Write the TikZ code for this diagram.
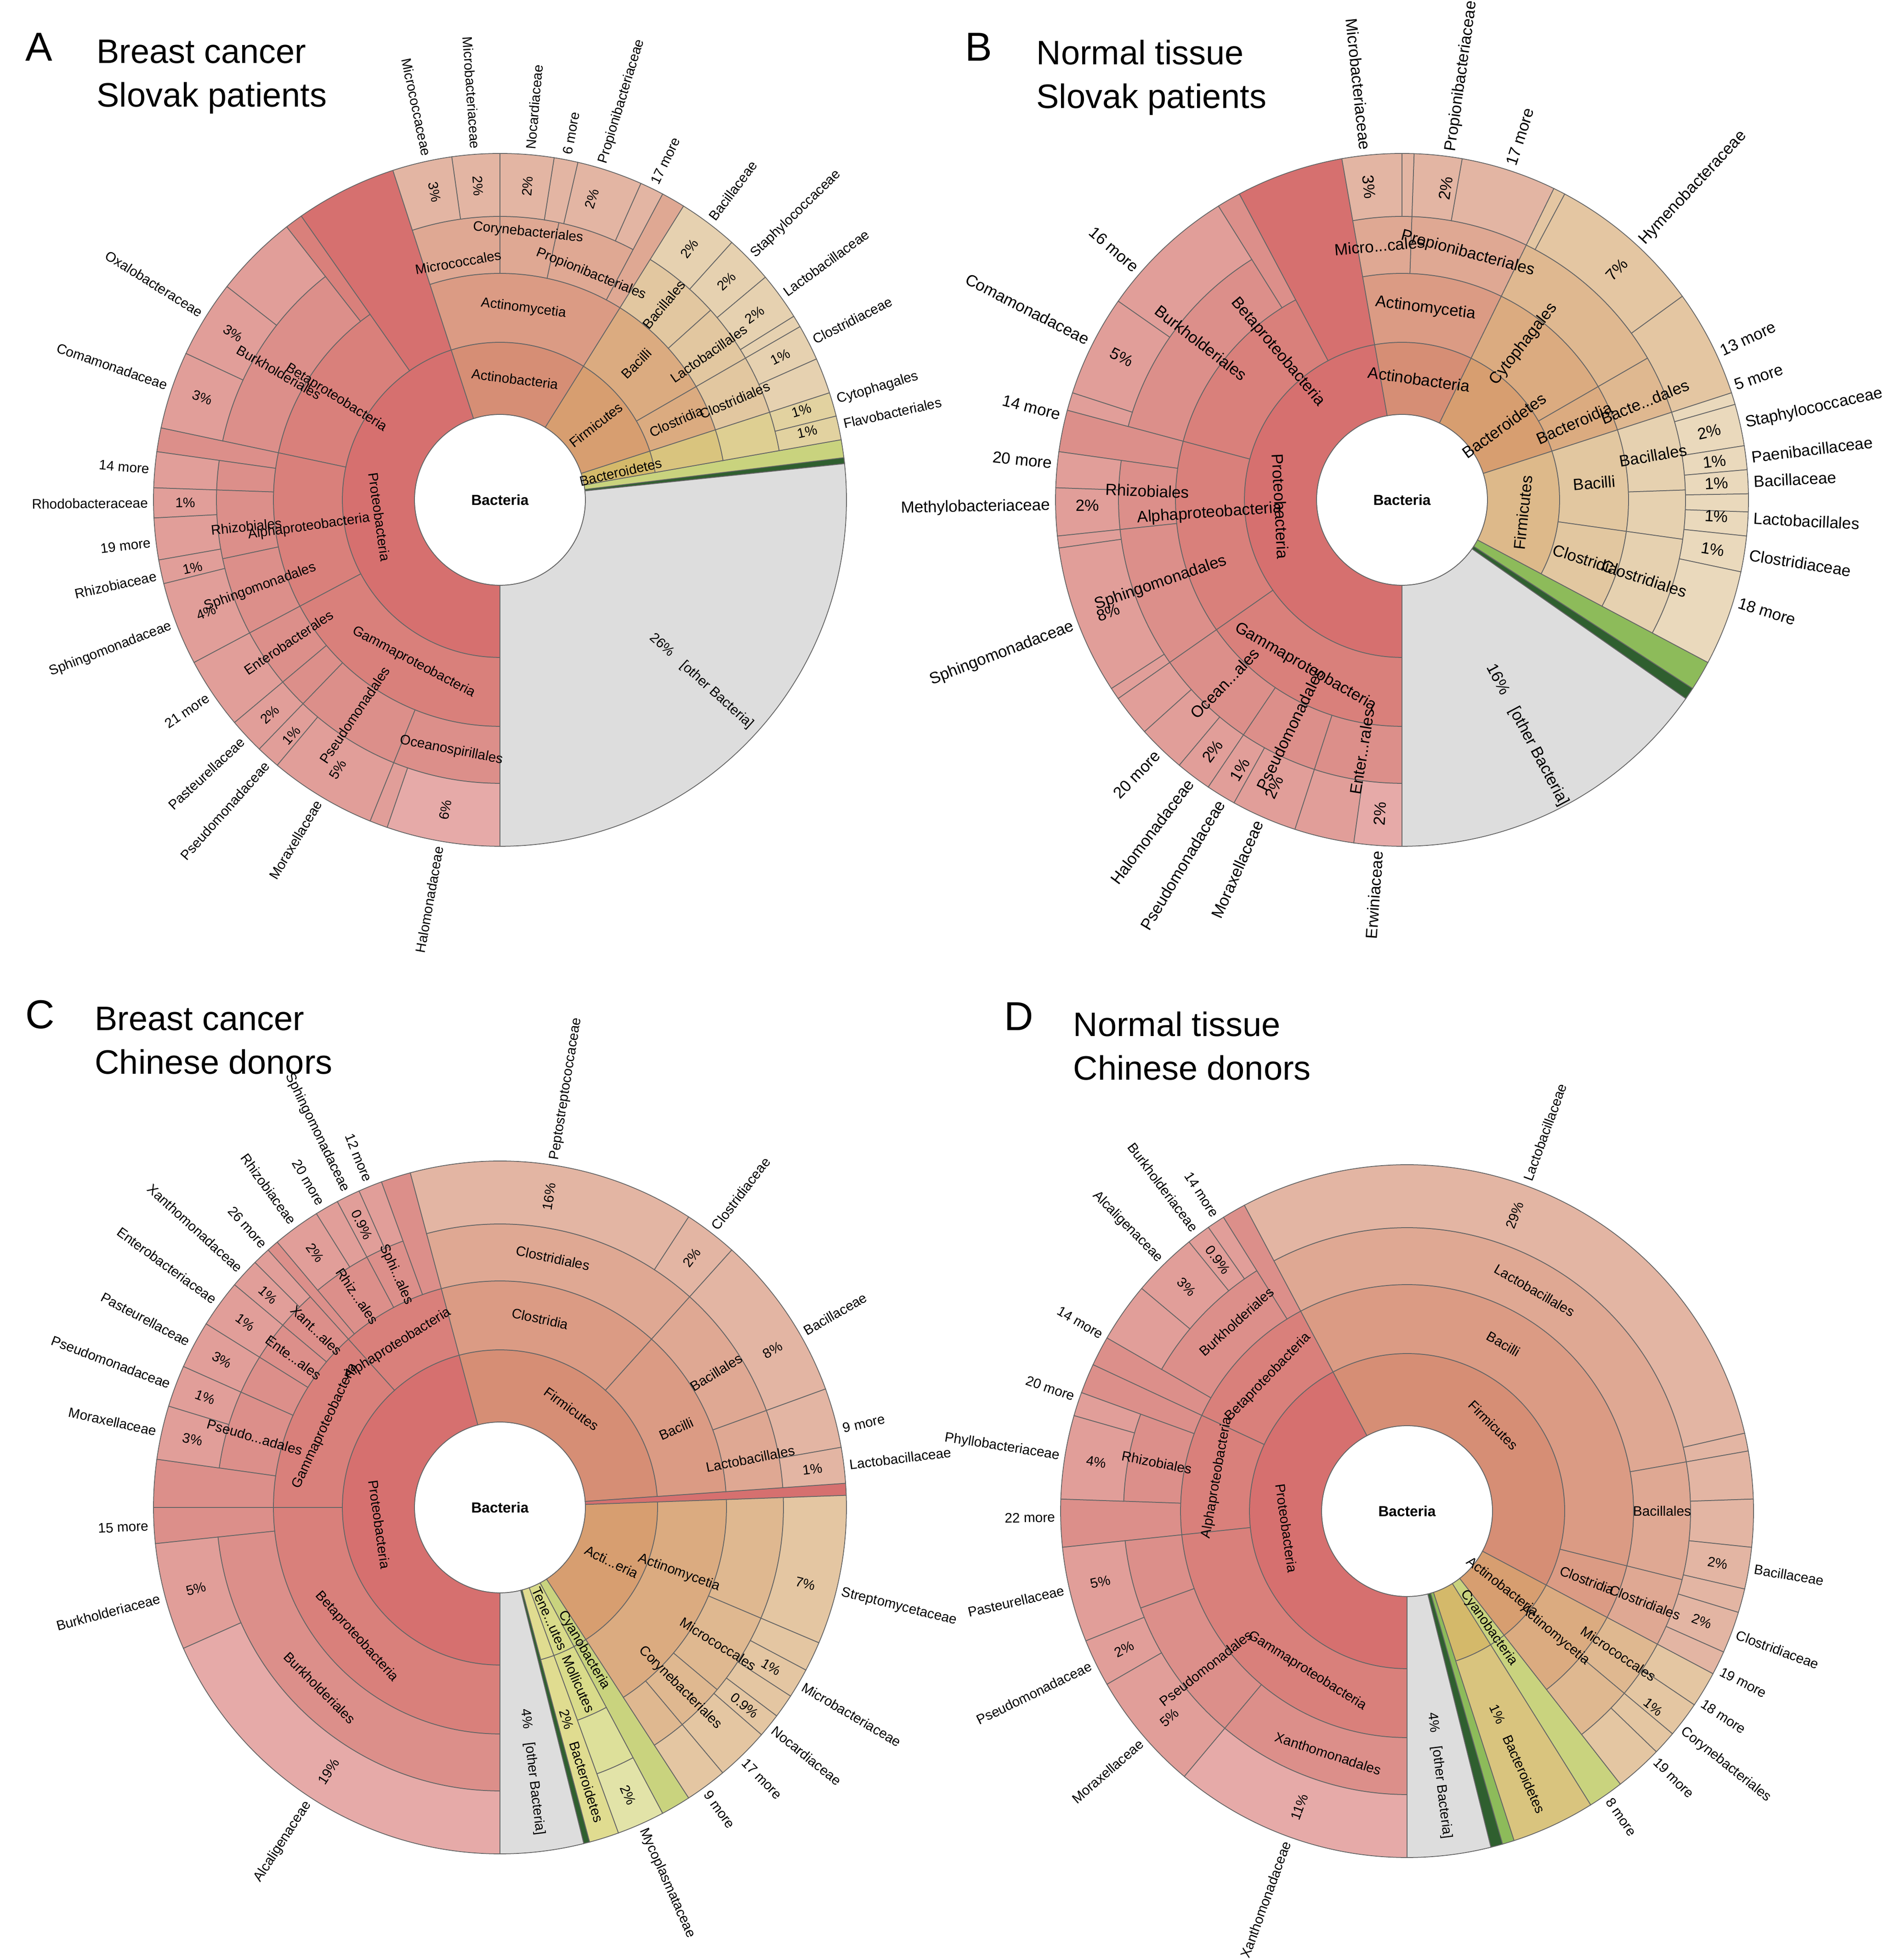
\documentclass[tikz,border=0pt]{standalone}
\usepackage{fontspec}
\setmainfont{Liberation Sans}
\definecolor{P1}{HTML}{D6706F}\definecolor{P2}{HTML}{D9807B}\definecolor{P3}{HTML}{DC8F8A}
\definecolor{P4}{HTML}{E19E99}\definecolor{P5}{HTML}{E6AAA8}
\definecolor{A1}{HTML}{D68E75}\definecolor{A2}{HTML}{DB9B84}\definecolor{A3}{HTML}{DFA893}\definecolor{A4}{HTML}{E3B5A3}
\definecolor{F1}{HTML}{D79E70}\definecolor{F2}{HTML}{DBAB80}\definecolor{F3}{HTML}{DFB890}\definecolor{F4}{HTML}{E4C6A2}
\definecolor{L1}{HTML}{DDB98A}\definecolor{L2}{HTML}{E2C7A0}\definecolor{L3}{HTML}{E6D1B0}\definecolor{L4}{HTML}{EAD9BC}
\definecolor{B1}{HTML}{D4B96A}\definecolor{B2}{HTML}{D9C47E}\definecolor{B3}{HTML}{DECF92}\definecolor{B4}{HTML}{E2D2A0}
\definecolor{G1}{HTML}{C9D37E}\definecolor{G2}{HTML}{8DBB5A}\definecolor{G3}{HTML}{2F5F2F}
\definecolor{T2}{HTML}{D9DB8A}\definecolor{T3}{HTML}{DDE09A}\definecolor{T4}{HTML}{E2E3A8}\definecolor{BY}{HTML}{E0DC90}
\definecolor{GR}{HTML}{DDDDDD}
\newcounter{lc}
\def\RR{7.54}
\newcommand\seg[6]{\fill[fill=#6,draw=black!60,line width=0.5pt] ([shift={(#2:#4)}]#1) arc[start angle=#2,end angle=#3,radius=#4] -- ([shift={(#3:#5)}]#1) arc[start angle=#3,end angle=#2,radius=#5] -- cycle;}
\newcommand\rlab[4]{\pgfmathtruncatemacro\fl{(mod(#2+720,360)>90 && mod(#2+720,360)<270)?1:0}%
 \ifnum\fl=1 \def\lrot{#2+180}\else\def\lrot{#2}\fi
 \stepcounter{lc}\node[lab,rotate=\lrot] (n\thelc) at ([shift={(#2:#3)}]#1) {#4};}
\newcommand\tlab[4]{\pgfmathtruncatemacro\fl{(mod(#2+720,360)<180)?1:0}%
 \ifnum\fl=1 \def\lrot{#2-90}\else\def\lrot{#2+90}\fi
 \stepcounter{lc}\node[lab,rotate=\lrot] (n\thelc) at ([shift={(#2:#3)}]#1) {#4};}
\newcommand\olab[3]{\pgfmathtruncatemacro\fl{(mod(#2+720,360)>90 && mod(#2+720,360)<270)?1:0}%
 \stepcounter{lc}%
 \ifnum\fl=1 \node[lab,anchor=east,rotate=#2+180] (n\thelc) at ([shift={(#2:\RR+0.08)}]#1) {#3};
 \else \node[lab,anchor=west,rotate=#2] (n\thelc) at ([shift={(#2:\RR+0.08)}]#1) {#3};\fi}
\newcommand\flab[4]{\olab{#1}{#2}{#3}\if\relax\detokenize{#4}\relax\else\rlab{#1}{#2}{6.85}{#4}\fi}
\begin{document}
\begin{tikzpicture}[lab/.style={inner sep=1pt,font=\fontsize{8.5}{10}\selectfont},
 hole/.style={circle,fill=white,draw=black!60,line width=0.5pt,minimum size=3.72cm,inner sep=0,font=\bfseries\fontsize{9}{10}\selectfont},
 ttl/.style={anchor=north west,inner sep=0,font=\fontsize{25}{30}\selectfont},
 ttext/.style={anchor=north west,inner sep=0,align=left,font=\fontsize{21}{27}\selectfont}]
\useasboundingbox (0,0) rectangle (41.12,42.66);
\fill[white] (0,0) rectangle (41.12,42.66);
% titles
\node[ttl] (LA) at (0.55,41.95) {A};
\node[ttext] (TA) at (2.1,41.8) {Breast cancer\\Slovak patients};
\node[ttl] (LB) at (21.0,41.95) {B};
\node[ttext] (TB) at (22.55,41.8) {Normal tissue\\Slovak patients};
\node[ttl] (LC) at (0.55,20.9) {C};
\node[ttext] (TC) at (2.06,20.75) {Breast cancer\\Chinese donors};
\node[ttl] (LD) at (21.85,20.85) {D};
\node[ttext] (TD) at (23.35,20.65) {Normal tissue\\Chinese donors};
\node[hole] (cA) at (10.88,31.78) {Bacteria};
\node[hole] (cB) at (30.51,31.78) {Bacteria};
\node[hole] (cC) at (10.88,9.85) {Bacteria};
\node[hole] (cD) at (30.62,9.77) {Bacteria};
%%%%%%%%%%%%%%%% A
\foreach \a/\b/\r/\s/\c in {108/270/1.86/3.43/P1,58/108/1.86/3.43/A1,18/58/1.86/3.43/F1,10/18/1.86/3.43/B1,6/10/1.86/7.54/G1,6/7/1.86/7.54/G3,-90/6/1.86/7.54/GR,
 108/125/3.43/7.54/P1,125/168/3.43/4.93/P2,168/208/3.43/4.93/P2,208/270/3.43/4.93/P2,58/108/3.43/4.93/A2,30/58/3.43/4.93/F2,18/30/3.43/4.93/F2,10/18/3.43/4.93/B2,
 125/128/4.93/7.54/P2,128/168/4.93/6.17/P3,168/172/4.93/7.54/P3,172/178/4.93/6.17/P3,178/192/4.93/6.17/P3,192/208/4.93/6.17/P3,208/220/4.93/6.17/P3,220/226/4.93/6.17/P3,226/248/4.93/6.17/P3,248/270/4.93/6.17/P3,
 58/62/4.93/7.54/A3,62/78/4.93/6.17/A3,78/90/4.93/6.17/A3,90/108/4.93/6.17/A3,42/58/4.93/6.17/L2,30/42/4.93/6.17/L2,18/30/4.93/6.17/L2,10/18/4.93/6.17/B3,
 128/142/6.17/7.54/P4,142/155/6.17/7.54/P4,155/168/6.17/7.54/P4,172/178/6.17/7.54/P4,178/183/6.17/7.54/P4,183/190/6.17/7.54/P4,190/194/6.17/7.54/P4,194/208/6.17/7.54/P4,208/220/6.17/7.54/P4,220/226/6.17/7.54/P4,226/230/6.17/7.54/P4,230/248/6.17/7.54/P4,248/251/6.17/7.54/P4,251/270/6.17/7.54/P5,
 62/66/6.17/7.54/A4,66/77/6.17/7.54/A4,77/81/6.17/7.54/A4,81/90/6.17/7.54/A4,90/98/6.17/7.54/A4,98/108/6.17/7.54/A4,
 48/58/6.17/7.54/L3,40/48/6.17/7.54/L3,32/40/6.17/7.54/L3,30/32/6.17/7.54/L3,24/30/6.17/7.54/L3,18/24/6.17/7.54/L3,14/18/6.17/7.54/B4,10/14/6.17/7.54/B4}
 {\seg{cA.center}{\a}{\b}{\r}{\s}{\c}}
\tlab{cA.center}{188}{2.65}{Proteobacteria}
\tlab{cA.center}{83}{2.65}{Actinobacteria}
\rlab{cA.center}{38}{2.65}{Firmicutes}
\rlab{cA.center}{13}{2.7}{Bacteroidetes}
\rlab{cA.center}{148}{4.2}{Betaproteobacteria}
\rlab{cA.center}{188}{4.2}{Alphaproteobacteria}
\tlab{cA.center}{242}{4.0}{Gammaproteobacteria}
\tlab{cA.center}{83}{4.2}{Actinomycetia}
\rlab{cA.center}{45}{4.2}{Bacilli}
\rlab{cA.center}{24}{4.2}{Clostridia}
\rlab{cA.center}{150}{5.55}{Burkholderiales}
\rlab{cA.center}{186}{5.55}{Rhizobiales}
\rlab{cA.center}{200}{5.55}{Sphingomonadales}
\rlab{cA.center}{214}{5.55}{Enterobacterales}
\rlab{cA.center}{236}{5.65}{Pseudomonadales}
\tlab{cA.center}{259}{5.55}{Oceanospirillales}
\tlab{cA.center}{100}{5.25}{Micrococcales}
\tlab{cA.center}{84}{5.85}{Corynebacteriales}
\tlab{cA.center}{68}{5.3}{Propionibacteriales}
\rlab{cA.center}{50}{5.55}{Bacillales}
\rlab{cA.center}{35}{5.55}{Lactobacillales}
\rlab{cA.center}{23}{5.55}{Clostridiales}
\flab{cA.center}{102}{Micrococcaceae}{3\%}
\flab{cA.center}{94}{Microbacteriaceae}{2\%}
\flab{cA.center}{85}{Nocardiaceae}{2\%}
\flab{cA.center}{79}{6 more}{}
\flab{cA.center}{73}{Propionibacteriaceae}{2\%}
\flab{cA.center}{64}{17 more}{}
\flab{cA.center}{53}{Bacillaceae}{2\%}
\flab{cA.center}{44}{Staphylococcaceae}{2\%}
\flab{cA.center}{36}{Lactobacillaceae}{2\%}
\flab{cA.center}{27}{Clostridiaceae}{1\%}
\flab{cA.center}{16.5}{Cytophagales}{1\%}
\flab{cA.center}{12.5}{Flavobacteriales}{1\%}
\flab{cA.center}{148}{Oxalobacteraceae}{3\%}
\flab{cA.center}{161}{Comamonadaceae}{3\%}
\flab{cA.center}{175}{14 more}{}
\flab{cA.center}{180.5}{Rhodobacteraceae}{1\%}
\flab{cA.center}{187}{19 more}{}
\flab{cA.center}{192.5}{Rhizobiaceae}{1\%}
\flab{cA.center}{201}{Sphingomonadaceae}{4\%}
\flab{cA.center}{214}{21 more}{}
\flab{cA.center}{223}{Pasteurellaceae}{2\%}
\flab{cA.center}{228.5}{Pseudomonadaceae}{1\%}
\flab{cA.center}{239}{Moraxellaceae}{5\%}
\flab{cA.center}{260}{Halomonadaceae}{6\%}
\rlab{cA.center}{-42}{5.9}{26\%\quad [other Bacteria]}
%%%%%%%%%%%%%%%% B
\begin{scope}[lab/.style={inner sep=1pt,font=\fontsize{10}{12}\selectfont}]
\foreach \a/\b/\r/\s/\c in {100/270/1.86/3.43/P1,64/100/1.86/3.43/A1,18/64/1.86/3.43/F1,-28/18/1.86/3.43/L1,-33/-28/1.86/7.54/G2,-35/-33/1.86/7.54/G3,-90/-35/1.86/7.54/GR,
 100/118/3.43/7.54/P1,118/165/3.43/4.93/P2,165/215/3.43/4.93/P2,215/270/3.43/4.93/P2,64/100/3.43/4.93/A2,30/64/3.43/4.93/F2,18/30/3.43/4.93/F2,-8/18/3.43/4.93/L2,-28/-8/3.43/4.93/L2,
 118/122/4.93/7.54/P3,122/165/4.93/6.17/P3,165/172/4.93/7.54/P3,172/186/4.93/6.17/P3,186/215/4.93/6.17/P3,215/236/4.93/6.17/P3,236/252/4.93/6.17/P3,252/270/4.93/6.17/P3,
 64/88/4.93/6.17/A3,88/100/4.93/6.17/A3,30/64/4.93/6.17/F3,18/30/4.93/6.17/F3,2/18/4.93/6.17/L3,-8/2/4.93/6.17/L3,-28/-8/4.93/6.17/L3,
 122/145/6.17/7.54/P4,145/162/6.17/7.54/P4,162/165/6.17/7.54/P4,172/178/6.17/7.54/P4,178/186/6.17/7.54/P4,186/188/6.17/7.54/P4,188/213/6.17/7.54/P4,213/215/6.17/7.54/P4,215/222/6.17/7.54/P4,222/230/6.17/7.54/P4,230/236/6.17/7.54/P4,236/241/6.17/7.54/P4,241/252/6.17/7.54/P4,252/262/6.17/7.54/P4,262/270/6.17/7.54/P5,
 64/80/6.17/7.54/A4,80/88/6.17/7.54/A4,88/90/6.17/7.54/A4,90/100/6.17/7.54/A4,18/36/6.17/7.54/F4,36/62/6.17/7.54/F4,62/64/6.17/7.54/F4,
 16/18/6.17/7.54/L4,9/16/6.17/7.54/L4,5/9/6.17/7.54/L4,1/5/6.17/7.54/L4,-2/1/6.17/7.54/L4,-6/-2/6.17/7.54/L4,-12/-6/6.17/7.54/L4,-28/-12/6.17/7.54/L4}
 {\seg{cB.center}{\a}{\b}{\r}{\s}{\c}}
\tlab{cB.center}{183}{2.65}{Proteobacteria}
\tlab{cB.center}{82}{2.65}{Actinobacteria}
\rlab{cB.center}{36}{2.75}{Bacteroidetes}
\tlab{cB.center}{-6}{2.65}{Firmicutes}
\rlab{cB.center}{130}{4.2}{Betaproteobacteria}
\rlab{cB.center}{184}{4.2}{Alphaproteobacteria}
\tlab{cB.center}{240}{4.2}{Gammaproteobacteria}
\tlab{cB.center}{83}{4.2}{Actinomycetia}
\rlab{cB.center}{52}{4.3}{Cytophagales}
\rlab{cB.center}{24}{4.1}{Bacteroidia}
\rlab{cB.center}{22}{5.7}{Bacte...dales}
\rlab{cB.center}{5}{4.2}{Bacilli}
\rlab{cB.center}{-18}{4.2}{Clostridia}
\rlab{cB.center}{142}{5.55}{Burkholderiales}
\rlab{cB.center}{178}{5.55}{Rhizobiales}
\rlab{cB.center}{199}{5.55}{Sphingomonadales}
\rlab{cB.center}{226}{5.55}{Ocean...ales}
\rlab{cB.center}{244}{5.55}{Pseudomonadales}
\rlab{cB.center}{261}{5.55}{Enter...rales}
\tlab{cB.center}{95}{5.55}{Micro...cales}
\tlab{cB.center}{75}{5.55}{Propionibacteriales}
\rlab{cB.center}{10}{5.55}{Bacillales}
\rlab{cB.center}{-18}{5.55}{Clostridiales}
\flab{cB.center}{96}{Microbacteriaceae}{3\%}
\flab{cB.center}{82}{Propionibacteriaceae}{2\%}
\flab{cB.center}{72}{17 more}{}
\flab{cB.center}{47}{Hymenobacteraceae}{7\%}
\flab{cB.center}{25}{13 more}{}
\flab{cB.center}{19}{5 more}{}
\flab{cB.center}{12.5}{Staphylococcaceae}{2\%}
\flab{cB.center}{7}{Paenibacillaceae}{1\%}
\flab{cB.center}{3}{Bacillaceae}{1\%}
\flab{cB.center}{-3}{Lactobacillales}{1\%}
\flab{cB.center}{-9}{Clostridiaceae}{1\%}
\flab{cB.center}{-17}{18 more}{}
\flab{cB.center}{139}{16 more}{}
\flab{cB.center}{153}{Comamonadaceae}{5\%}
\flab{cB.center}{166}{14 more}{}
\flab{cB.center}{174}{20 more}{}
\flab{cB.center}{181}{Methylobacteriaceae}{2\%}
\flab{cB.center}{201}{Sphingomonadaceae}{8\%}
\flab{cB.center}{226}{20 more}{}
\flab{cB.center}{233}{Halomonadaceae}{2\%}
\flab{cB.center}{239}{Pseudomonadaceae}{1\%}
\flab{cB.center}{246}{Moraxellaceae}{2\%}
\flab{cB.center}{266}{Erwiniaceae}{2\%}
\rlab{cB.center}{-62}{5.8}{16\%\quad [other Bacteria]}
\end{scope}
%%%%%%%%%%%%%%%% C
\foreach \a/\b/\r/\s/\c in {105/270/1.86/3.43/P1,4/105/1.86/3.43/A1,2/4/1.86/7.54/P1,-57/2/1.86/3.43/F1,-62/-57/1.86/3.43/G1,-70/-62/1.86/3.43/T2,-75/-70/1.86/3.43/BY,-76/-75/1.86/7.54/G3,-90/-76/1.86/7.54/GR,
 105/132/3.43/4.93/P2,132/180/3.43/4.93/P2,180/270/3.43/4.93/P2,48/105/3.43/4.93/A2,4/48/3.43/4.93/A2,-57/2/3.43/4.93/F2,-62/-57/3.43/7.54/G1,-70/-62/3.43/4.93/T2,-75/-70/3.43/7.54/BY,
 105/110/4.93/7.54/P3,110/118/4.93/6.17/P3,118/130/4.93/6.17/P3,130/132/4.93/7.54/P3,132/140/4.93/6.17/P3,140/148/4.93/6.17/P3,148/156/4.93/6.17/P3,156/172/4.93/6.17/P3,172/180/4.93/7.54/P3,180/186/4.93/7.54/P3,186/270/4.93/6.17/P3,
 48/105/4.93/6.17/A3,20/48/4.93/6.17/A3,4/20/4.93/6.17/A3,-23/2/4.93/6.17/F3,-40/-23/4.93/6.17/F3,-50/-40/4.93/6.17/F3,-57/-50/4.93/6.17/F3,-70/-62/4.93/6.17/T3,
 110/114/6.17/7.54/P4,114/118/6.17/7.54/P4,118/122/6.17/7.54/P4,122/130/6.17/7.54/P4,132/135/6.17/7.54/P4,135/140/6.17/7.54/P4,140/148/6.17/7.54/P4,148/156/6.17/7.54/P4,156/163/6.17/7.54/P4,163/172/6.17/7.54/P4,186/204/6.17/7.54/P4,204/270/6.17/7.54/P5,
 57/105/6.17/7.54/A4,48/57/6.17/7.54/A4,20/48/6.17/7.54/A4,10/20/6.17/7.54/A4,4/10/6.17/7.54/A4,
 -23/2/6.17/7.54/F4,-28/-23/6.17/7.54/F4,-33/-28/6.17/7.54/F4,-37/-33/6.17/7.54/F4,-41/-37/6.17/7.54/F4,-50/-41/6.17/7.54/F4,-57/-50/6.17/7.54/F4,-70/-62/6.17/7.54/T4}
 {\seg{cC.center}{\a}{\b}{\r}{\s}{\c}}
\tlab{cC.center}{188}{2.65}{Proteobacteria}
\tlab{cC.center}{54}{2.65}{Firmicutes}
\rlab{cC.center}{-26}{2.7}{Acti...eria}
\rlab{cC.center}{-66}{2.65}{Tene...utes}
\rlab{cC.center}{-59.5}{3.6}{Cyanobacteria}
\rlab{cC.center}{-66}{4.2}{Mollicutes}
\tlab{cC.center}{122}{4.2}{Alphaproteobacteria}
\tlab{cC.center}{155}{4.2}{Gammaproteobacteria}
\tlab{cC.center}{222}{4.2}{Betaproteobacteria}
\tlab{cC.center}{78}{4.2}{Clostridia}
\rlab{cC.center}{24}{4.2}{Bacilli}
\rlab{cC.center}{-20}{4.15}{Actinomycetia}
\tlab{cC.center}{78}{5.55}{Clostridiales}
\rlab{cC.center}{32}{5.55}{Bacillales}
\rlab{cC.center}{11}{5.55}{Lactobacillales}
\rlab{cC.center}{-32}{5.6}{Micrococcales}
\rlab{cC.center}{-45}{5.55}{Corynebacteriales}
\rlab{cC.center}{114}{5.55}{Sphi...ales}
\rlab{cC.center}{124}{5.55}{Rhiz...ales}
\rlab{cC.center}{136}{5.55}{Xant...ales}
\rlab{cC.center}{144}{5.55}{Ente...ales}
\rlab{cC.center}{164}{5.55}{Pseudo...adales}
\tlab{cC.center}{225}{5.55}{Burkholderiales}
\flab{cC.center}{112}{12 more}{}
\flab{cC.center}{116}{Sphingomonadaceae}{0.9\%}
\flab{cC.center}{120.5}{20 more}{}
\flab{cC.center}{126}{Rhizobiaceae}{2\%}
\flab{cC.center}{132}{26 more}{}
\flab{cC.center}{137.5}{Xanthomonadaceae}{1\%}
\flab{cC.center}{144}{Enterobacteriaceae}{1\%}
\flab{cC.center}{152}{Pasteurellaceae}{3\%}
\flab{cC.center}{159.5}{Pseudomonadaceae}{1\%}
\flab{cC.center}{167.5}{Moraxellaceae}{3\%}
\flab{cC.center}{183}{15 more}{}
\flab{cC.center}{195}{Burkholderiaceae}{5\%}
\flab{cC.center}{237}{Alcaligenaceae}{19\%}
\flab{cC.center}{81}{Peptostreptococcaceae}{16\%}
\flab{cC.center}{52.5}{Clostridiaceae}{2\%}
\flab{cC.center}{30}{Bacillaceae}{8\%}
\flab{cC.center}{13}{9 more}{}
\flab{cC.center}{7}{Lactobacillaceae}{1\%}
\flab{cC.center}{-14}{Streptomycetaceae}{7\%}
\flab{cC.center}{-30.5}{Microbacteriaceae}{1\%}
\flab{cC.center}{-39}{Nocardiaceae}{0.9\%}
\flab{cC.center}{-46}{17 more}{}
\flab{cC.center}{-54}{9 more}{}
\flab{cC.center}{-66}{Mycoplasmataceae}{2\%}
\rlab{cC.center}{-72.5}{5.9}{2\%\quad Bacteroidetes}
\rlab{cC.center}{-83}{5.8}{4\%\quad [other Bacteria]}
%%%%%%%%%%%%%%%% D
\foreach \a/\b/\r/\s/\c in {118/270/1.86/3.43/P1,-28/118/1.86/3.43/A1,-52/-28/1.86/3.43/F1,-58/-52/1.86/3.43/G1,-72/-58/1.86/3.43/B1,-74/-72/1.86/7.54/G2,-76/-74/1.86/7.54/G3,-90/-76/1.86/7.54/GR,
 118/155/3.43/4.93/P2,155/186/3.43/4.93/P2,186/270/3.43/4.93/P2,-14/118/3.43/4.93/A2,-28/-14/3.43/4.93/A2,-52/-28/3.43/4.93/F2,-58/-52/3.43/7.54/G1,-72/-58/3.43/7.54/B2,
 118/122/4.93/7.54/P3,122/150/4.93/6.17/P3,150/155/4.93/7.54/P3,155/160/4.93/7.54/P3,160/178/4.93/6.17/P3,178/186/4.93/7.54/P3,186/200/4.93/6.17/P3,200/230/4.93/6.17/P3,230/270/4.93/6.17/P3,
 10/118/4.93/6.17/A3,-14/10/4.93/6.17/A3,-28/-14/4.93/6.17/A3,-40/-28/4.93/6.17/F3,-52/-40/4.93/6.17/F3,
 122/125/6.17/7.54/P4,125/129/6.17/7.54/P4,129/140/6.17/7.54/P4,140/150/6.17/7.54/P4,160/164/6.17/7.54/P4,164/178/6.17/7.54/P4,186/202/6.17/7.54/P4,202/210/6.17/7.54/P4,210/230/6.17/7.54/P4,230/270/6.17/7.54/P5,
 13/118/6.17/7.54/A4,10/13/6.17/7.54/A4,2/10/6.17/7.54/A4,-6/2/6.17/7.54/A4,-13/-6/6.17/7.54/A4,-17/-13/6.17/7.54/A4,-24/-17/6.17/7.54/A4,-28/-24/6.17/7.54/A4,
 -34/-28/6.17/7.54/F4,-40/-34/6.17/7.54/F4,-44/-40/6.17/7.54/F4,-52/-44/6.17/7.54/F4}
 {\seg{cD.center}{\a}{\b}{\r}{\s}{\c}}
\tlab{cD.center}{188}{2.65}{Proteobacteria}
\tlab{cD.center}{45}{2.65}{Firmicutes}
\rlab{cD.center}{-38}{2.65}{Actinobacteria}
\rlab{cD.center}{-55}{3.1}{Cyanobacteria}
\tlab{cD.center}{60}{4.2}{Bacilli}
\rlab{cD.center}{-21}{4.2}{Clostridia}
\rlab{cD.center}{-40}{4.2}{Actinomycetia}
\tlab{cD.center}{136}{4.2}{Betaproteobacteria}
\tlab{cD.center}{170}{4.2}{Alphaproteobacteria}
\tlab{cD.center}{238}{4.1}{Gammaproteobacteria}
\tlab{cD.center}{60}{5.55}{Lactobacillales}
\rlab{cD.center}{0}{5.55}{Bacillales}
\rlab{cD.center}{-21}{5.55}{Clostridiales}
\rlab{cD.center}{-34}{5.55}{Micrococcales}
\tlab{cD.center}{132}{5.55}{Burkholderiales}
\rlab{cD.center}{169}{5.55}{Rhizobiales}
\rlab{cD.center}{218}{5.55}{Pseudomonadales}
\tlab{cD.center}{252}{5.55}{Xanthomonadales}
\flab{cD.center}{123}{14 more}{}
\flab{cD.center}{127}{Burkholderiaceae}{0.9\%}
\flab{cD.center}{134.5}{Alcaligenaceae}{3\%}
\flab{cD.center}{150}{14 more}{}
\flab{cD.center}{161}{20 more}{}
\flab{cD.center}{171}{Phyllobacteriaceae}{4\%}
\flab{cD.center}{181}{22 more}{}
\flab{cD.center}{193}{Pasteurellaceae}{5\%}
\flab{cD.center}{206}{Pseudomonadaceae}{2\%}
\flab{cD.center}{221}{Moraxellaceae}{5\%}
\flab{cD.center}{250}{Xanthomonadaceae}{11\%}
\flab{cD.center}{70}{Lactobacillaceae}{29\%}
\flab{cD.center}{-9.5}{Bacillaceae}{2\%}
\flab{cD.center}{-20.5}{Clostridiaceae}{2\%}
\flab{cD.center}{-27}{19 more}{}
\flab{cD.center}{-33}{18 more}{}
\flab{cD.center}{-38.5}{Corynebacteriales}{1\%}
\flab{cD.center}{-45}{19 more}{}
\flab{cD.center}{-55}{8 more}{}
\rlab{cD.center}{-66}{5.9}{1\%\quad Bacteroidetes}
\rlab{cD.center}{-83}{5.8}{4\%\quad [other Bacteria]}
\end{tikzpicture}
\end{document}
